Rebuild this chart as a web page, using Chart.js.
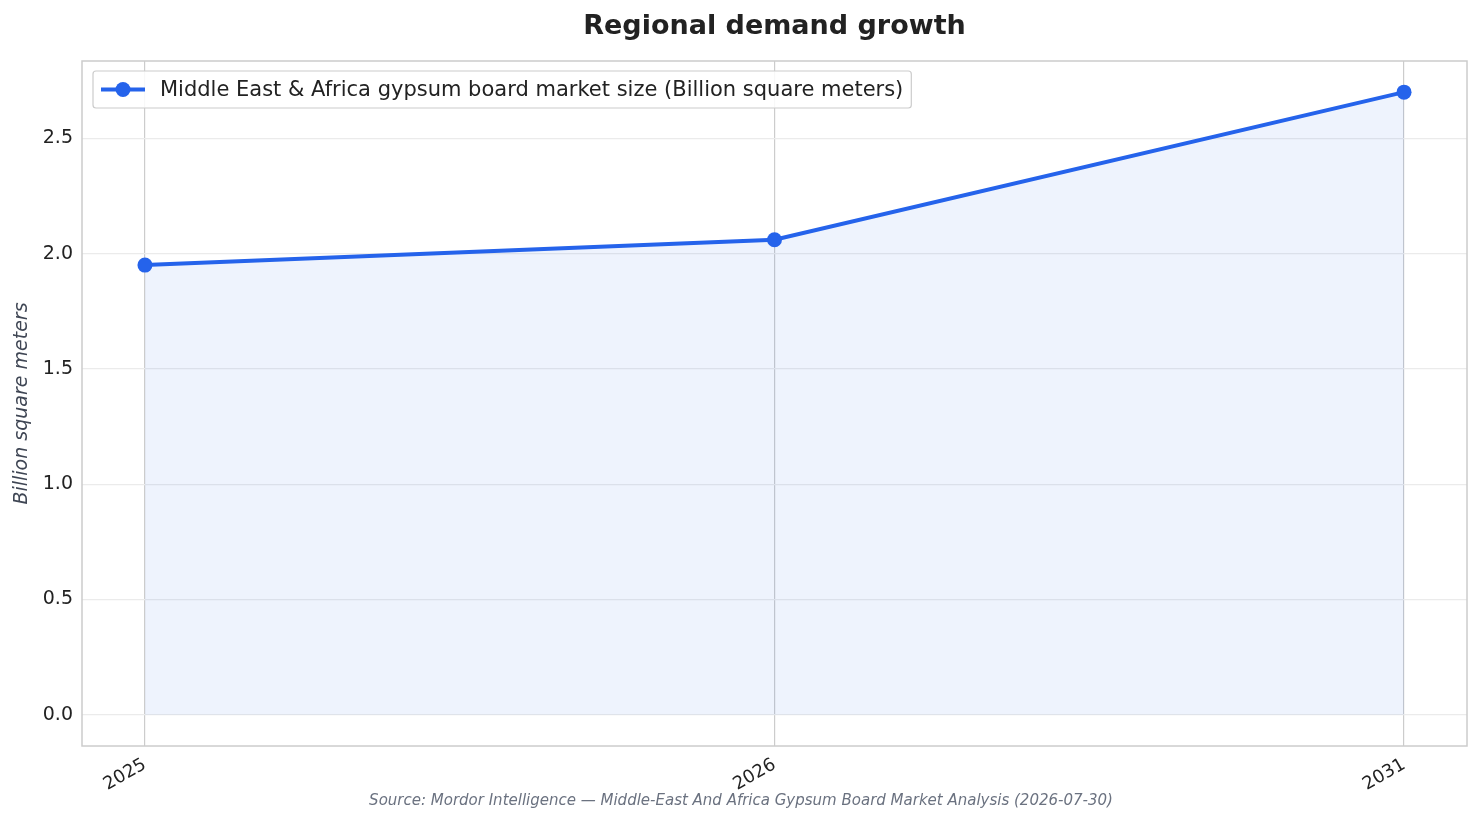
<!DOCTYPE html>
<html lang="en">
<head>
<meta charset="UTF-8">
<title>Regional demand growth</title>
<style>
  html, body { margin: 0; padding: 0; background: #fff; }
  #wrap { width: 1482px; height: 824px; }
</style>
</head>
<body>
<div id="wrap"><canvas id="chart" width="1482" height="824"></canvas></div>
<script src="https://cdn.jsdelivr.net/npm/chart.js"></script>
<script>
const years = ['2025', '2026', '2031'];
const marketSize = [1.95, 2.06, 2.70];
const seriesLabel = 'Middle East & Africa gypsum board market size (Billion square meters)';
const chartTitle = 'Regional demand growth';
const sourceNote = 'Source: Mordor Intelligence \u2014 Middle-East And Africa Gypsum Board Market Analysis (2026-07-30)';

const FONT = "'DejaVu Sans', sans-serif";
const BLUE = '#2563eb';

// frame, title, legend box and source line
const decorations = {
  id: 'decorations',
  afterDraw(chart) {
    const { ctx, chartArea: a } = chart;
    ctx.save();
    ctx.strokeStyle = '#cccccc';
    ctx.lineWidth = 1.5;
    ctx.strokeRect(a.left, a.top, a.right - a.left, a.bottom - a.top);

    ctx.fillStyle = '#222';
    ctx.font = 'bold 27px ' + FONT;
    ctx.textAlign = 'center';
    ctx.textBaseline = 'middle';
    ctx.fillText(chartTitle, (a.left + a.right) / 2, 27);

    ctx.font = 'italic 15px ' + FONT;
    ctx.fillStyle = '#6b7280';
    ctx.fillText(sourceNote, chart.width / 2, 801);

    // legend
    ctx.font = '21px ' + FONT;
    const tw = ctx.measureText(seriesLabel).width;
    const lx = a.left + 11, ly = a.top + 10, lh = 37;
    const lw = 67 + tw + 8;
    ctx.fillStyle = 'rgba(255,255,255,0.85)';
    ctx.strokeStyle = '#cccccc';
    ctx.lineWidth = 1.2;
    ctx.beginPath();
    ctx.roundRect(lx, ly, lw, lh, 3);
    ctx.fill();
    ctx.stroke();
    const cy = ly + lh / 2;
    ctx.strokeStyle = BLUE;
    ctx.lineWidth = 4;
    ctx.beginPath();
    ctx.moveTo(lx + 8, cy);
    ctx.lineTo(lx + 52, cy);
    ctx.stroke();
    ctx.fillStyle = BLUE;
    ctx.beginPath();
    ctx.arc(lx + 30, cy, 7.5, 0, Math.PI * 2);
    ctx.fill();
    ctx.fillStyle = '#222';
    ctx.textAlign = 'left';
    ctx.fillText(seriesLabel, lx + 67, cy + 1);
    ctx.restore();
  }
};

new Chart(document.getElementById('chart'), {
  type: 'line',
  data: {
    datasets: [{
      label: seriesLabel,
      data: marketSize.map((v, i) => ({ x: i, y: v })),
      borderColor: BLUE,
      backgroundColor: 'rgba(37, 99, 235, 0.08)',
      borderWidth: 4,
      pointRadius: 7.5,
      pointHoverRadius: 7.5,
      pointBackgroundColor: BLUE,
      pointBorderColor: BLUE,
      pointBorderWidth: 0,
      fill: 'origin',
      tension: 0
    }]
  },
  plugins: [decorations],
  options: {
    responsive: false,
    animation: false,
    layout: { padding: { top: 61, right: 15, bottom: 0, left: 0 } },
    plugins: {
      legend: { display: false },
      title: { display: false },
      tooltip: { enabled: false }
    },
    scales: {
      x: {
        type: 'linear',
        min: -0.1,
        max: 2.1,
        afterFit(scale) { scale.height = 78; },
        ticks: {
          stepSize: 1,
          includeBounds: false,
          autoSkip: false,
          minRotation: 30,
          maxRotation: 30,
          padding: 8,
          color: '#222',
          font: { family: FONT, size: 18 },
          callback: (v) => years[v] !== undefined ? years[v] : ''
        },
        grid: { color: '#cccccc', lineWidth: 1.2, drawTicks: false },
        border: { display: false }
      },
      y: {
        min: -0.135,
        max: 2.835,
        afterFit(scale) { scale.width = 82; },
        ticks: {
          stepSize: 0.5,
          includeBounds: false,
          padding: 9,
          color: '#222',
          font: { family: FONT, size: 19 },
          callback: (v) => v.toFixed(1)
        },
        title: {
          display: true,
          text: 'Billion square meters',
          color: '#3f4654',
          font: { family: FONT, size: 19, style: 'italic' },
          padding: { top: 11, bottom: 0 }
        },
        grid: { color: '#ebebeb', lineWidth: 1.2, drawTicks: false },
        border: { display: false }
      }
    }
  }
});
</script>
</body>
</html>
